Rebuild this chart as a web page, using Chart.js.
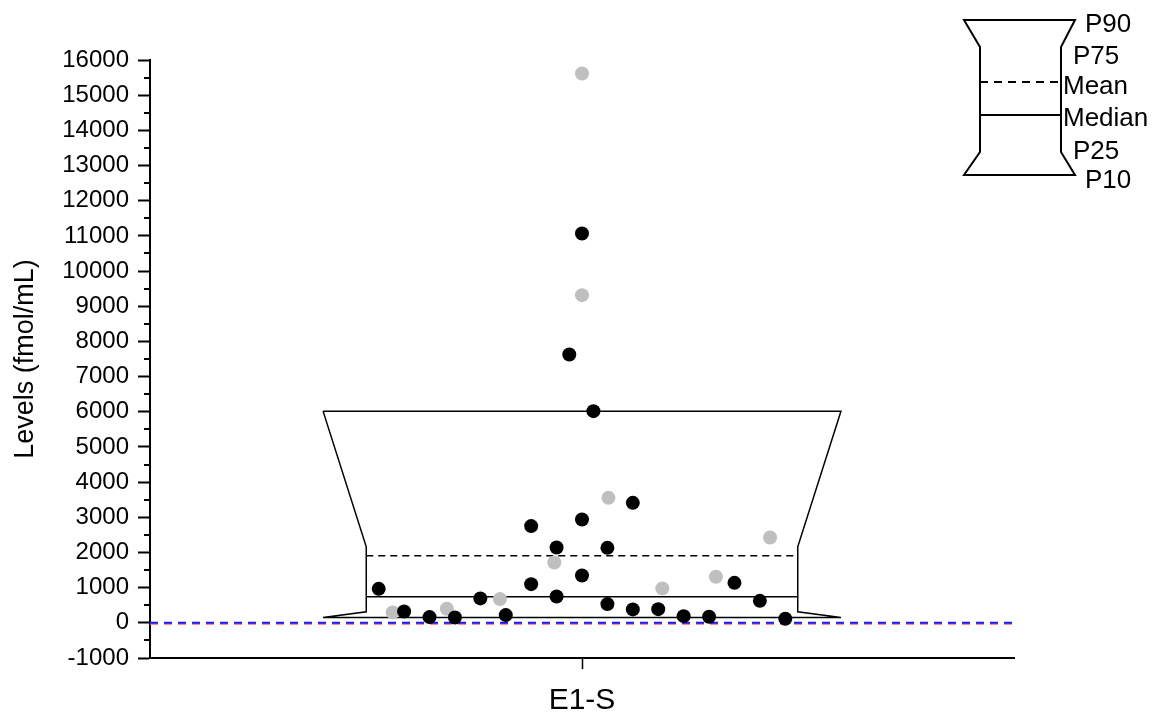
<!DOCTYPE html>
<html>
<head>
<meta charset="utf-8">
<script src="https://cdn.jsdelivr.net/npm/chart.js@4"></script>
<style>
  html, body { margin: 0; padding: 0; background: #fff; }
</style>
</head>
<body>
<canvas id="chart" width="1152" height="713"></canvas>
<script>
// --- data ---
const category = "E1-S";
const yTitle = "Levels (fmol/mL)";
const yMin = -1000, yMax = 16000, yStep = 1000, yMinorStep = 500;

// jitter position (in point-spacing units, 0 = category centre) and level
const blackJitter = [-8, -7, -6, -5, -4, -3, -2, -2, -1, -1, -0.5, 0, 0, 0, 0.45, 1, 1, 2, 2, 3, 4, 5, 6, 7, 8];
const blackValues = [966, 324, 162, 153, 694, 219, 2749, 1100, 2143, 750, 7629, 11069, 2939, 1347, 6018, 2132, 532, 3411, 381, 389, 190, 171, 1137, 625, 114];

const grayJitter = [-7.45, -5.32, -3.23, -1.09, 0, 0, 1.04, 3.16, 5.27, 7.4];
const grayValues = [296, 398, 674, 1717, 15617, 9315, 3553, 978, 1308, 2427];

// percentile box
const p10 = 153, p25 = 313, median = 739, mean = 1905, p75 = 2160, p90 = 6018;
const refLine = 0;

const legendLabels = ["P90", "P75", "Mean", "Median", "P25", "P10"];

// --- geometry (x in jitter units) ---
const xHalf = 17;
const wideHalf = 10.19, narrowHalf = 8.49;
const FONT = "'Liberation Sans', Arial, sans-serif";

const toPts = (xs, ys) => xs.map((x, i) => ({ x: x, y: ys[i] }));

const boxOutline = [
  { x: -wideHalf, y: p90 }, { x: wideHalf, y: p90 },
  { x: narrowHalf, y: p75 }, { x: narrowHalf, y: p25 },
  { x: wideHalf, y: p10 }, { x: -wideHalf, y: p10 },
  { x: -narrowHalf, y: p25 }, { x: -narrowHalf, y: p75 },
  { x: -wideHalf, y: p90 }
];

// minor ticks, legend glyph and the small offset of the red ref line
const extras = {
  id: "extras",
  beforeDatasetDraw(chart, args) {
    const ds = chart.data.datasets[args.index];
    if (ds.shiftY) { chart.ctx.save(); chart.ctx.translate(0, ds.shiftY); }
  },
  afterDatasetDraw(chart, args) {
    if (chart.data.datasets[args.index].shiftY) chart.ctx.restore();
  },
  afterDraw(chart) {
    const ctx = chart.ctx;
    const y = chart.scales.y;
    ctx.save();
    ctx.strokeStyle = "#000";
    ctx.lineWidth = 2;
    for (let v = yMin + yMinorStep; v < yMax; v += yStep) {
      const py = Math.round(y.getPixelForValue(v));
      ctx.beginPath();
      ctx.moveTo(y.right - 6, py);
      ctx.lineTo(y.right, py);
      ctx.stroke();
    }

    // legend glyph
    ctx.lineWidth = 2;
    ctx.beginPath();
    ctx.moveTo(964, 20); ctx.lineTo(1075, 20);
    ctx.lineTo(1061, 47); ctx.lineTo(1061, 152);
    ctx.lineTo(1075, 175); ctx.lineTo(964, 175);
    ctx.lineTo(980, 152); ctx.lineTo(980, 47);
    ctx.closePath();
    ctx.stroke();
    ctx.beginPath();
    ctx.moveTo(980, 115); ctx.lineTo(1061, 115);
    ctx.stroke();
    ctx.setLineDash([8, 6]);
    ctx.beginPath();
    ctx.moveTo(980, 82); ctx.lineTo(1061, 82);
    ctx.stroke();
    ctx.setLineDash([]);

    ctx.fillStyle = "#000";
    ctx.font = "26px " + FONT;
    ctx.textBaseline = "middle";
    const lx = [1085, 1073, 1063, 1063, 1073, 1085];
    const ly = [25, 57, 87, 119, 152, 181];
    legendLabels.forEach((t, i) => ctx.fillText(t, lx[i], ly[i]));
    ctx.restore();
  }
};

new Chart(document.getElementById("chart"), {
  type: "scatter",
  data: {
    datasets: [
      {
        data: toPts(blackJitter, blackValues),
        backgroundColor: "#000", borderWidth: 0, pointRadius: 7
      },
      {
        data: toPts(grayJitter, grayValues),
        backgroundColor: "#bfbfbf", borderWidth: 0, pointRadius: 7
      },
      {
        data: boxOutline, showLine: true, pointRadius: 0,
        borderColor: "#000", borderWidth: 1.5, tension: 0
      },
      {
        data: [{ x: -narrowHalf, y: median }, { x: narrowHalf, y: median }],
        showLine: true, pointRadius: 0, borderColor: "#000", borderWidth: 1.5
      },
      {
        data: [{ x: -narrowHalf, y: mean }, { x: narrowHalf, y: mean }],
        showLine: true, pointRadius: 0, borderColor: "#000", borderWidth: 1.5,
        borderDash: [7, 5]
      },
      {
        data: [{ x: -xHalf, y: refLine }, { x: xHalf, y: refLine }],
        showLine: true, pointRadius: 0, borderColor: "#1a1aff", borderWidth: 2,
        borderDash: [8, 6]
      },
      {
        data: [{ x: -xHalf, y: refLine }, { x: xHalf, y: refLine }],
        showLine: true, pointRadius: 0, borderColor: "#ff6b6b", borderWidth: 2,
        borderDash: [8, 6], shiftY: 1
      }
    ]
  },
  options: {
    responsive: false,
    animation: false,
    events: [],
    layout: { padding: { left: 0, right: 138, top: 60, bottom: 0 } },
    plugins: { legend: { display: false }, tooltip: { enabled: false } },
    scales: {
      x: {
        type: "linear",
        min: -xHalf, max: xHalf,
        afterBuildTicks: s => { s.ticks = [{ value: 0 }]; },
        afterFit: s => { s.height = 55; },
        border: { color: "#000", width: 2 },
        grid: { drawOnChartArea: false, color: "#000", tickLength: 11, tickWidth: 1.5 },
        ticks: {
          color: "#000", padding: 14,
          font: { family: FONT, size: 30 },
          callback: v => (v === 0 ? category : "")
        }
      },
      y: {
        min: yMin, max: yMax,
        afterFit: s => { s.width = 150; },
        border: { color: "#000", width: 2 },
        grid: { drawOnChartArea: false, color: "#000", tickLength: 12, tickWidth: 2 },
        ticks: {
          stepSize: yStep, color: "#000", padding: 9,
          font: { family: FONT, size: 24 },
          callback: v => String(v)
        },
        title: {
          display: true, text: yTitle, color: "#000",
          font: { family: FONT, size: 27 },
          padding: { top: 9, bottom: 0 }
        }
      }
    }
  },
  plugins: [extras]
});
</script>
</body>
</html>
